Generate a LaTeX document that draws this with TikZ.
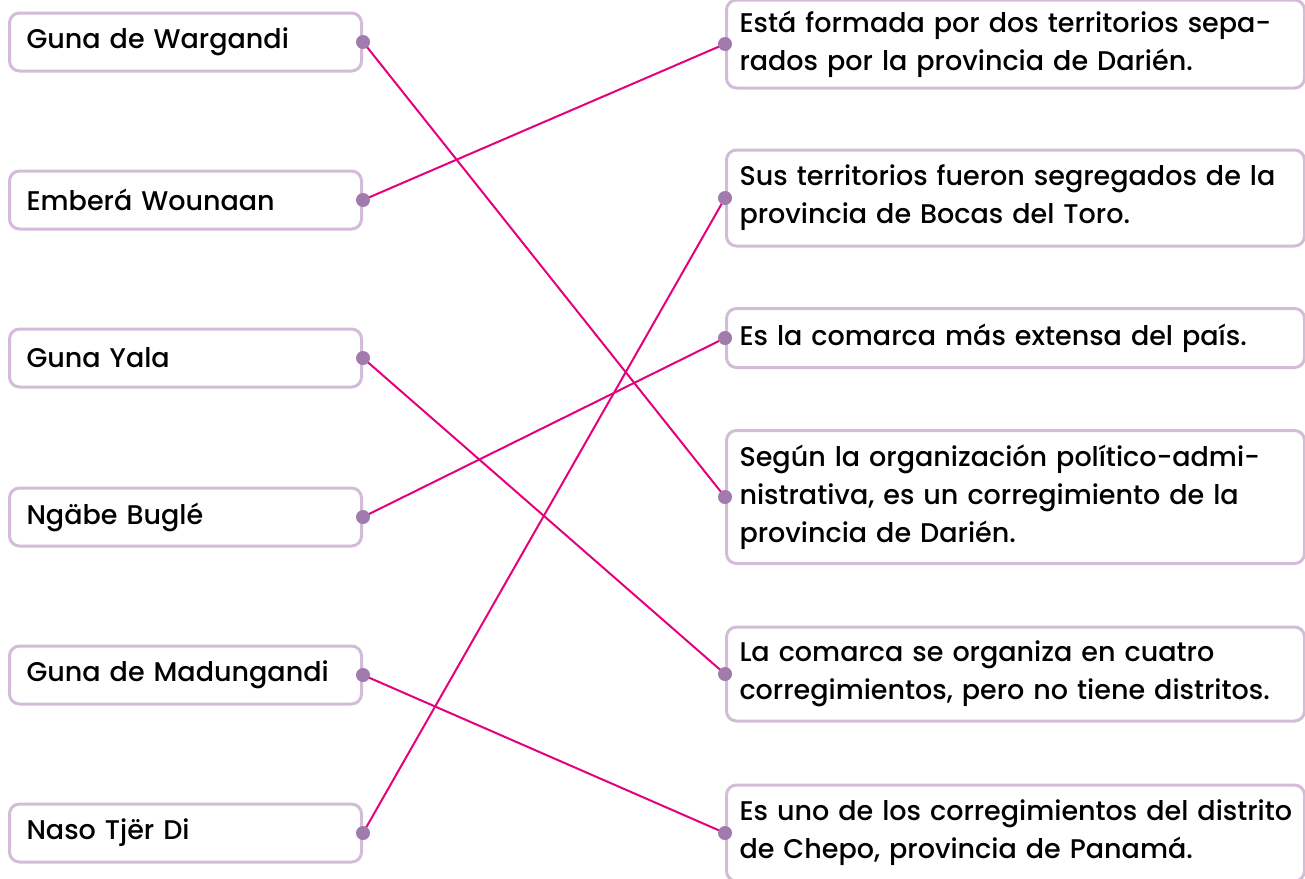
\documentclass[tikz,border=0pt]{standalone}
\usepackage{fontspec}
\setmainfont{Poppins}[UprightFont=* Medium]
\definecolor{boxline}{HTML}{D3BCD8}
\definecolor{dotfill}{HTML}{A27BAE}
\definecolor{linkpink}{HTML}{E5007D}
\begin{document}
\begin{tikzpicture}[x=0.5pt,y=-0.5pt]
    \tikzstyle{every node}+=[font=\fontsize{13.5}{19}\selectfont]
    \tikzstyle{leftbox}=[draw=boxline, line width=1.5pt, rounded corners=5pt, anchor=west, align=left, text width=159pt, inner xsep=8.5pt, minimum height=29pt]
    \tikzstyle{rightbox}=[draw=boxline, line width=1.5pt, rounded corners=5pt, anchor=west, align=left, text width=276pt, inner xsep=6.5pt]
    \tikzstyle{link}=[linkpink, line width=1pt]
    \useasboundingbox (0,0) rectangle (1305,878);
    \node [leftbox] (wargandi) at (8,42) {Guna de Wargandi};
    \node [leftbox] (embera) at (8,200) {Emberá Wounaan};
    \node [leftbox] (gunayala) at (8,358) {Guna Yala};
    \node [leftbox] (ngabe) at (8,517) {Ngäbe Buglé};
    \node [leftbox] (madungandi) at (8,675) {Guna de Madungandi};
    \node [leftbox] (naso) at (8,833) {Naso Tjër Di};
    \node [rightbox, minimum height=44pt] (separados) at (725,44) {Está formada por dos territorios sepa-\\rados por la provincia de Darién.};
    \node [rightbox, minimum height=48pt] (bocas) at (725,198) {Sus territorios fueron segregados de la\\provincia de Bocas del Toro.};
    \node [rightbox, minimum height=29.5pt] (extensa) at (725,338) {Es la comarca más extensa del país.};
    \node [rightbox, minimum height=66.5pt] (corregimiento) at (725,497) {Según la organización político-admi-\\nistrativa, es un corregimiento de la\\provincia de Darién.};
    \node [rightbox, minimum height=47pt] (cuatro) at (725,674) {La comarca se organiza en cuatro\\corregimientos, pero no tiene distritos.};
    \node [rightbox, minimum height=48pt] (chepo) at (725,833) {\mbox{Es uno de los corregimientos del distrito}\\de Chepo, provincia de Panamá.};
    \draw [link] (wargandi.east) -- (corregimiento.west);
    \draw [link] (embera.east) -- (separados.west);
    \draw [link] (gunayala.east) -- (cuatro.west);
    \draw [link] (ngabe.east) -- (extensa.west);
    \draw [link] (madungandi.east) -- (chepo.west);
    \draw [link] (naso.east) -- (bocas.west);
    \foreach \n in {wargandi,embera,gunayala,ngabe,madungandi,naso}
        \fill [dotfill] (\n.east) circle (3.5pt);
    \foreach \n in {separados,bocas,extensa,corregimiento,cuatro,chepo}
        \fill [dotfill] (\n.west) circle (3.5pt);
\end{tikzpicture}
\end{document}
